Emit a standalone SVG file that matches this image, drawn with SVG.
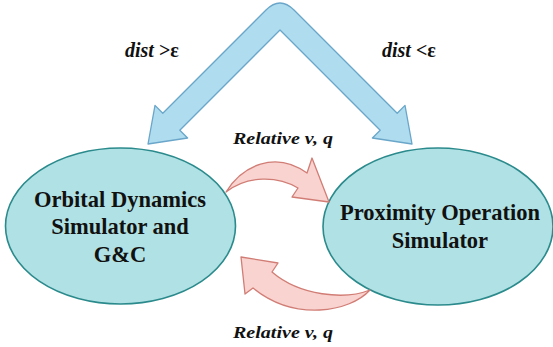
<svg xmlns="http://www.w3.org/2000/svg" width="553" height="347" viewBox="0 0 553 347">
<style>
.node{fill:#b0e1e4;stroke:#2b8a8c;stroke-width:1.6}
.blue{fill:#afdcef;stroke:#6aa6c9;stroke-width:1.3;stroke-linejoin:round}
.red{fill:#f9d3cf;stroke:#d17d75;stroke-width:1.3;stroke-linejoin:round}
</style>
<rect width="553" height="347" fill="#fff"/>
<g id="node-orbital" font-family="Liberation Serif, serif" font-weight="bold" font-size="22.5" fill="#111" text-anchor="middle">
<ellipse class="node" cx="120.5" cy="226" rx="115" ry="78"/>
<text x="120" y="207">Orbital Dynamics</text>
<text x="120" y="234">Simulator and</text>
<text x="120" y="262">G&amp;C</text>
</g>
<g id="node-proximity" font-family="Liberation Serif, serif" font-weight="bold" font-size="22.5" fill="#111" text-anchor="middle">
<ellipse class="node" cx="438" cy="226.5" rx="115" ry="78.5"/>
<text x="440" y="220">Proximity Operation</text>
<text x="440" y="248">Simulator</text>
</g>
<g id="connectors">
<path class="blue" d="M266,10 Q280,-4 294,10 L397.2,113.2 L405,105.4 L412,144 L372.4,138 L380.2,130.2 L280,30 L179.8,130.2 L187.6,138 L148,144 L155,105.4 L162.8,113.2 Z"/>
<path class="red" d="M226,192 C242,166 275,150 307,173 L312,158 L329,202 L292,197 L298,188 C278,176 248,175 226,192 Z"/>
<path class="red" d="M370,290 C350,312 295,322 253,288 L245,294 L241,257 L278,263 L272,272 C300,296 345,300 370,290 Z"/>
</g>
<g id="labels" font-family="Liberation Serif, serif" font-weight="bold" fill="#111">
<text x="125" y="57" font-size="20"><tspan font-style="italic">dist</tspan> &gt;ε</text>
<text x="382" y="57" font-size="20"><tspan font-style="italic">dist</tspan> &lt;ε</text>
<text x="233" y="144" font-size="17" font-style="italic" textLength="100" lengthAdjust="spacingAndGlyphs">Relative v, q</text>
<text x="233" y="338" font-size="17" font-style="italic" textLength="100" lengthAdjust="spacingAndGlyphs">Relative v, q</text>
</g>
</svg>
